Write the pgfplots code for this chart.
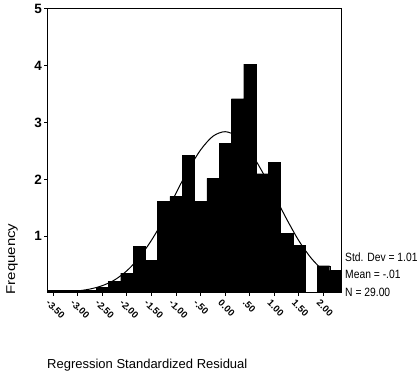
\documentclass[border=0pt]{standalone}
\usepackage{pgfplots}
\pgfplotsset{compat=1.18}
\usepackage{fontspec}
\setmainfont{Liberation Sans}
\begin{document}
\begin{tikzpicture}[x=1pt,y=1pt]
\path[use as bounding box] (0,0) rectangle (420,377);
\begin{axis}[
  at={(47pt,84pt)}, anchor=south west,
  width=295pt, height=284pt, scale only axis,
  xmin=-3.625, xmax=2.375, ymin=0, ymax=5,
  xtick={-3.5,-3,-2.5,-2,-1.5,-1,-0.5,0,0.5,1,1.5,2},
  xticklabels={-3.50,-3.00,-2.50,-2.00,-1.50,-1.00,-.50,0.00,.50,1.00,1.50,2.00},
  x tick label style={rotate=-45, anchor=north west, font=\bfseries\fontsize{9.5}{9.5}\selectfont, inner sep=0pt, yshift=-4pt},
  ytick={1,2,3,4,5},
  yticklabels={1,2,3,4,5},
  y tick label style={font=\bfseries\fontsize{13.5}{13.5}\selectfont, inner sep=2pt},
  tick align=outside, major tick length=3pt,
  xtick pos=bottom, ytick pos=left,
  tick style={line width=1pt, black},
  axis line style={line width=1pt},
  /pgf/number format/assume math mode=true,
]
\addplot[ybar, bar width=0.25, fill=black, draw=black, line width=0.3pt] coordinates {
(-3.5,0.05) (-3.25,0.05) (-3.0,0.05) (-2.75,0.05) (-2.5,0.1) (-2.25,0.2)
(-2.0,0.35) (-1.75,0.82) (-1.5,0.58) (-1.25,1.61) (-1.0,1.70) (-0.75,2.42)
(-0.5,1.61) (-0.25,2.02) (0.0,2.63) (0.25,3.42) (0.5,4.03) (0.75,2.10)
(1.0,2.30) (1.25,1.05) (1.5,0.84) (1.75,0.0) (2.0,0.48) (2.25,0.40)
};
\addplot[black, line width=1pt, smooth, mark=none] coordinates {
(-3.625,0.005) (-3.25,0.015) (-3.0,0.036) (-2.75,0.07) (-2.5,0.129) (-2.25,0.23)
(-2.0,0.392) (-1.75,0.622) (-1.5,0.929) (-1.25,1.30) (-1.0,1.76)
(-0.75,2.17) (-0.5,2.52) (-0.25,2.76) (0.0,2.84) (0.25,2.75) (0.5,2.50)
(0.75,2.14) (1.0,1.72) (1.25,1.30) (1.5,0.917) (1.75,0.612) (2.0,0.39)
(2.25,0.233) (2.375,0.18)
};
\end{axis}
\node[anchor=west, font=\fontsize{12}{13}\selectfont, inner sep=0pt] at (345,120) {\scalebox{0.86}[1]{Std. Dev = 1.01}};
\node[anchor=west, font=\fontsize{12}{13}\selectfont, inner sep=0pt] at (345,103) {\scalebox{0.86}[1]{Mean = -.01}};
\node[anchor=west, font=\fontsize{12}{13}\selectfont, inner sep=0pt] at (345,85) {\scalebox{0.86}[1]{N = 29.00}};
\node[anchor=center, rotate=90, font=\fontsize{15}{15}\selectfont, inner sep=0pt] at (12,118) {\scalebox{1}[0.85]{Frequency}};
\node[anchor=west, font=\fontsize{13}{13}\selectfont, inner sep=0pt] at (47,12) {Regression Standardized Residual};
\end{tikzpicture}
\end{document}
